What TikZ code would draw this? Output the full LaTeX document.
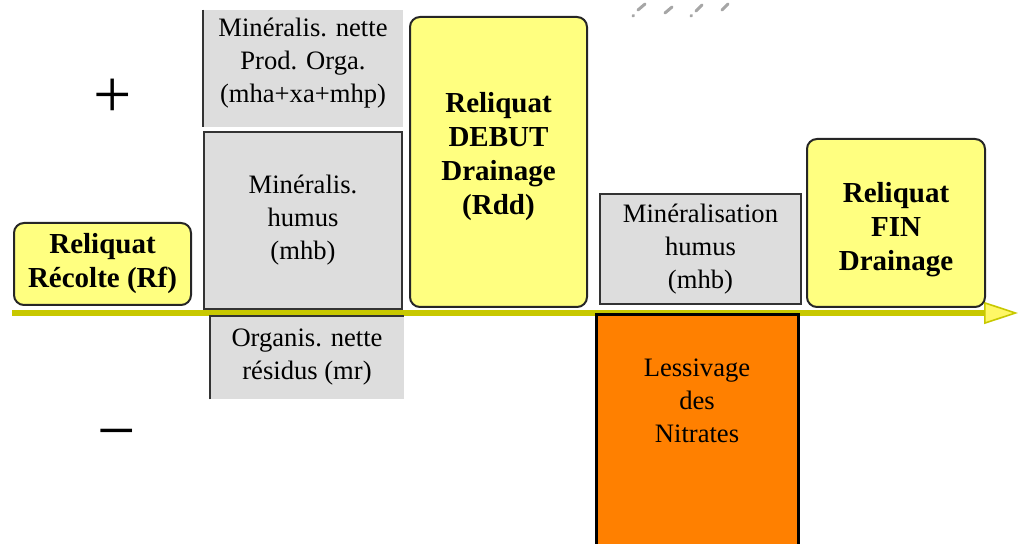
\documentclass[tikz,border=0pt]{standalone}
\usepackage{fontspec}
\setmainfont{Liberation Serif}
\usepackage{tikz}
\usetikzlibrary{arrows.meta, positioning}
\definecolor{reliqyellow}{RGB}{255,255,128}
\definecolor{bilangray}{RGB}{221,221,221}
\definecolor{lessorange}{RGB}{255,128,0}
\definecolor{axisolive}{RGB}{200,200,0}

\begin{document}
\begin{tikzpicture}[
  x=0.5pt, y=-0.5pt,
  box/.style={rectangle, inner sep=0pt, align=center, font=\fontsize{13.3}{16.5}\selectfont},
  yellowbox/.style={box, rounded corners=5pt, draw=black!85, line width=1pt, fill=reliqyellow, font=\bfseries\fontsize{14.5}{17}\selectfont},
  boldtext/.style={box, font=\bfseries\fontsize{14.5}{17}\selectfont},
  graybox/.style={box, fill=bilangray},
  grayframe/.style={graybox, draw=black!80, line width=1pt},
  orangebox/.style={box, fill=lessorange, draw=black, line width=1.5pt},
  edge/.style={black!80, line width=1pt},
  axis/.style={axisolive, line width=3pt, -{Triangle[length=17pt, width=11pt, line width=0.8pt, fill=yellow!60]}},
  sign/.style={font=\fontsize{34}{34}\selectfont},
  hatch/.style={gray!70, line width=1.5pt, line cap=round}
]
\useasboundingbox (0,0) rectangle (1019,544);

% axis
\coordinate (axstart) at (12,313);
\coordinate (axend) at (1018,313);
\draw[axis] (axstart) -- (axend);

\node[sign] (plus) at (113,98) {+};
\node[sign] (minus) at (117,441) {−};

% harvest
\node[yellowbox, minimum width=88.5pt, minimum height=41pt] (rf) at (102.5,264) {Reliquat\\Récolte (Rf)};

% autumn
\node[graybox, minimum width=100pt, minimum height=58.5pt] (mprod) at (303,68.5) {};
\node[box] (mprodtxt) at (303,63) {Minéralis. nette\\Prod. Orga.\\(mha+xa+mhp)};
\draw[edge] (mprod.north west) -- (mprod.south west);
\node[grayframe, minimum width=99pt, minimum height=88.5pt] (mhb) at (303,220.5) {Minéralis.\\humus\\(mhb)};
\node[graybox, minimum width=97pt, minimum height=41.5pt] (mr) at (307,357.5) {Organis. nette\\résidus (mr)};
\draw[edge] (mr.south west) -- (mr.north west) -- (mr.north east);
\node[yellowbox, minimum width=88.5pt, minimum height=145pt] (rdd) at (498.5,162) {};
\node[boldtext] (rddtxt) at (498.5,157) {Reliquat\\DEBUT\\Drainage\\(Rdd)};

% winter
\node[grayframe, minimum width=100.5pt, minimum height=55pt] (mhb2) at (700.5,249) {Minéralisation\\humus\\(mhb)};
\node[orangebox, minimum width=101pt, minimum height=120.5pt] (less) at (697,435.5) {};
\node[box] (lesstxt) at (697,401) {Lessivage\\des\\Nitrates};
\node[yellowbox, minimum width=89pt, minimum height=84pt] (rfin) at (896,223) {};
\node[boldtext] (rfintxt) at (896,230) {Reliquat\\FIN\\Drainage};

% hatching at the top
\draw[hatch] (638,10) -- (645,4);
\draw[hatch] (665,13) -- (672,7);
\draw[hatch] (696,11) -- (702,5);
\draw[hatch] (722,10) -- (728,4);
\draw[hatch] (633,16) -- (633.5,15.5);
\draw[hatch] (691,16) -- (691.5,15.5);
\end{tikzpicture}
\end{document}
